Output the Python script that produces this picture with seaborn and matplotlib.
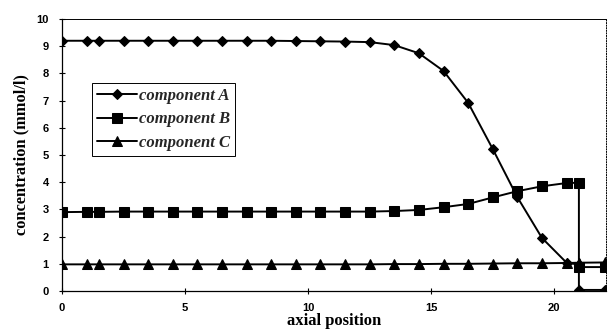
import numpy as np
import pandas as pd
import matplotlib
matplotlib.use("Agg")
import matplotlib.pyplot as plt
import seaborn as sns

# ---- data ----
x_pos = [0, 1.0, 1.5, 2.5, 3.5, 4.5, 5.5, 6.5, 7.5, 8.5, 9.5, 10.5, 11.5, 12.5,
         13.5, 14.5, 15.5, 16.5, 17.5, 18.5, 19.5, 20.5, 21.0, 21.0, 22.05]
comp_a = [9.2, 9.2, 9.2, 9.2, 9.2, 9.2, 9.2, 9.2, 9.2, 9.2, 9.19, 9.18, 9.17, 9.15,
          9.04, 8.74, 8.09, 6.92, 5.22, 3.45, 1.95, 1.04, 0.97, 0.04, 0.04]
comp_b = [2.9, 2.91, 2.91, 2.92, 2.92, 2.92, 2.92, 2.92, 2.92, 2.92, 2.92, 2.92, 2.92, 2.92,
          2.94, 2.98, 3.08, 3.2, 3.44, 3.67, 3.85, 3.97, 3.98, 0.88, 0.88]
comp_c = [0.98, 0.98, 0.98, 0.98, 0.98, 0.98, 0.98, 0.98, 0.98, 0.98, 0.98, 0.98, 0.98, 0.98,
          0.99, 0.99, 1.0, 1.0, 1.01, 1.02, 1.02, 1.03, 1.04, 1.04, 1.05]
labels = ["component A", "component B", "component C"]
markers = ["D", "s", "^"]
x_ticks = [0, 5, 10, 15, 20]
y_ticks = list(range(0, 11))

sns.set_theme(style="white")
plt.rcParams["font.family"] = ["Liberation Sans", "DejaVu Sans"]

fig = plt.figure(figsize=(6.1, 3.35), dpi=100)
ax = fig.add_axes([0.1016, 0.1313, 0.8918, 0.812])

series = [comp_a, comp_b, comp_c]
msizes = [5.5, 6.5, 6.5]
for vals, lab, mk, ms in zip(series, labels, markers, msizes):
    df = pd.DataFrame({"x": x_pos, "y": vals})
    sns.lineplot(data=df, x="x", y="y", ax=ax, estimator=None, sort=False,
                 color="black", lw=1.4, marker=mk, markersize=ms,
                 markeredgecolor="black", markerfacecolor="black", label=lab)

ax.set_xlim(0, 22.1)
ax.set_ylim(0, 10)
ax.set_xticks(x_ticks)
ax.set_yticks(y_ticks)
ax.tick_params(direction="inout", length=5, width=0.8, color="black",
               labelsize=8, labelcolor="black", bottom=True, left=True)
ax.tick_params(axis="x", pad=6)
ax.tick_params(axis="y", pad=7)
for lbl in ax.get_xticklabels() + ax.get_yticklabels():
    lbl.set_fontweight("bold")

for s in ["left", "bottom"]:
    ax.spines[s].set_color("black")
    ax.spines[s].set_linewidth(0.9)
ax.spines["top"].set_color("black")
ax.spines["top"].set_linewidth(0.7)
ax.spines["right"].set_color("black")
ax.spines["right"].set_linewidth(0.7)
ax.spines["right"].set_linestyle(":")

ax.set_xlabel("axial position", family=["Liberation Serif"], fontweight="bold",
              fontsize=12, labelpad=0, color="black")
ax.set_ylabel("concentration (mmol/l)", family=["Liberation Serif"], fontweight="bold",
              fontsize=11.8, labelpad=5, color="black")

leg = ax.legend(loc="upper left", bbox_to_anchor=(0.055, 0.765), frameon=True,
                fancybox=False, edgecolor="black", framealpha=1,
                prop={"family": "Liberation Serif", "weight": "bold",
                      "style": "italic", "size": 12},
                handlelength=2.4, handletextpad=0.1, borderpad=0.3,
                labelspacing=0.45, borderaxespad=0)
leg.get_frame().set_linewidth(0.7)

fig.savefig("out.png", dpi=100)
